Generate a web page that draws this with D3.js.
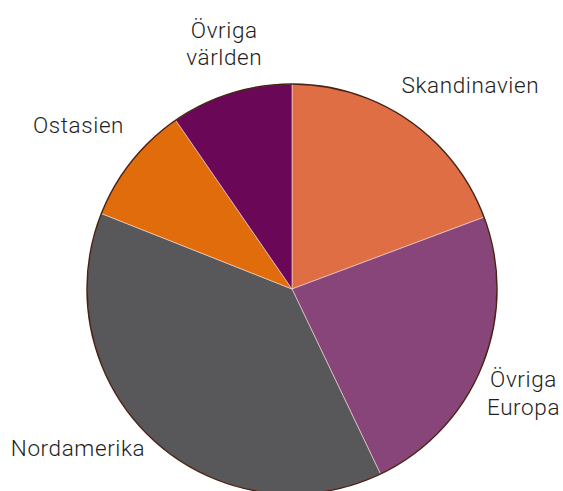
<!DOCTYPE html>
<head>
    <meta charset="utf-8">
    <title>Fördelning per region</title>
    <script src="https://cdn.jsdelivr.net/npm/d3@7"></script>
    <style>
        body { margin: 0; background: #fff; }
        text { font-family: Roboto, "DejaVu Sans", sans-serif; font-weight: 300; fill: #1e1e1e; letter-spacing: 0.6px; }
    </style>
</head>
<body>
<div id="container"></div>
<script>

    // Data (share in percent, clockwise from 12 o'clock)
    const regions = ["Skandinavien", "Övriga Europa", "Nordamerika", "Ostasien", "Övriga världen"];
    const shares = [19.3, 23.6, 38.1, 9.4, 9.6];
    const labelLines = [["Skandinavien"], ["Övriga", "Europa"], ["Nordamerika"], ["Ostasien"], ["Övriga", "världen"]];
    const colors = ["#e06e44", "#874579", "#58585a", "#e06c0b", "#6b0757"];
    const labelNudge = [[33, 6], [-5, 9], [-40, -27], [-14, -5], [8, -2]];

    const width = 563;
    const height = 491;
    const radius = 205;
    const cx = 292, cy = 289;

    const svg = d3.select("#container")
        .append("svg")
        .attr("width", width)
        .attr("height", height);

    const g = svg.append("g")
        .attr("transform", `translate(${cx}, ${cy})`);

    const data = regions.map((r, i) => ({ region: r, value: shares[i], i: i }));

    const pie = d3.pie()
        .value(d => d.value)
        .sort(null);

    const arc = d3.arc()
        .innerRadius(0)
        .outerRadius(radius);

    const labelArc = d3.arc()
        .innerRadius(255)
        .outerRadius(255);

    const arcs = pie(data);

    // slices, thin light separators
    g.selectAll(".slice")
        .data(arcs)
        .enter()
        .append("path")
        .attr("class", "slice")
        .attr("d", arc)
        .attr("fill", d => colors[d.data.i])
        .attr("stroke", "#f4dcd6")
        .attr("stroke-width", 0.6);

    // dark outline round the pie
    g.append("circle")
        .attr("r", radius)
        .attr("fill", "none")
        .attr("stroke", "#4a2216")
        .attr("stroke-width", 1.5);

    // labels
    const lineHeight = 27.5;
    const labels = g.selectAll(".label")
        .data(arcs)
        .enter()
        .append("text")
        .attr("class", "label")
        .attr("text-anchor", "middle")
        .attr("font-size", 22.5)
        .attr("transform", d => {
            const c = labelArc.centroid(d);
            const n = labelNudge[d.data.i];
            return `translate(${c[0] + n[0]}, ${c[1] + n[1]})`;
        });

    labels.each(function(d) {
        const lines = labelLines[d.data.i];
        const t = d3.select(this);
        lines.forEach((l, k) => {
            t.append("tspan")
                .attr("x", 0)
                .attr("y", (k - (lines.length - 1) / 2) * lineHeight)
                .attr("dy", "0.35em")
                .text(l);
        });
    });

</script>
</body>
